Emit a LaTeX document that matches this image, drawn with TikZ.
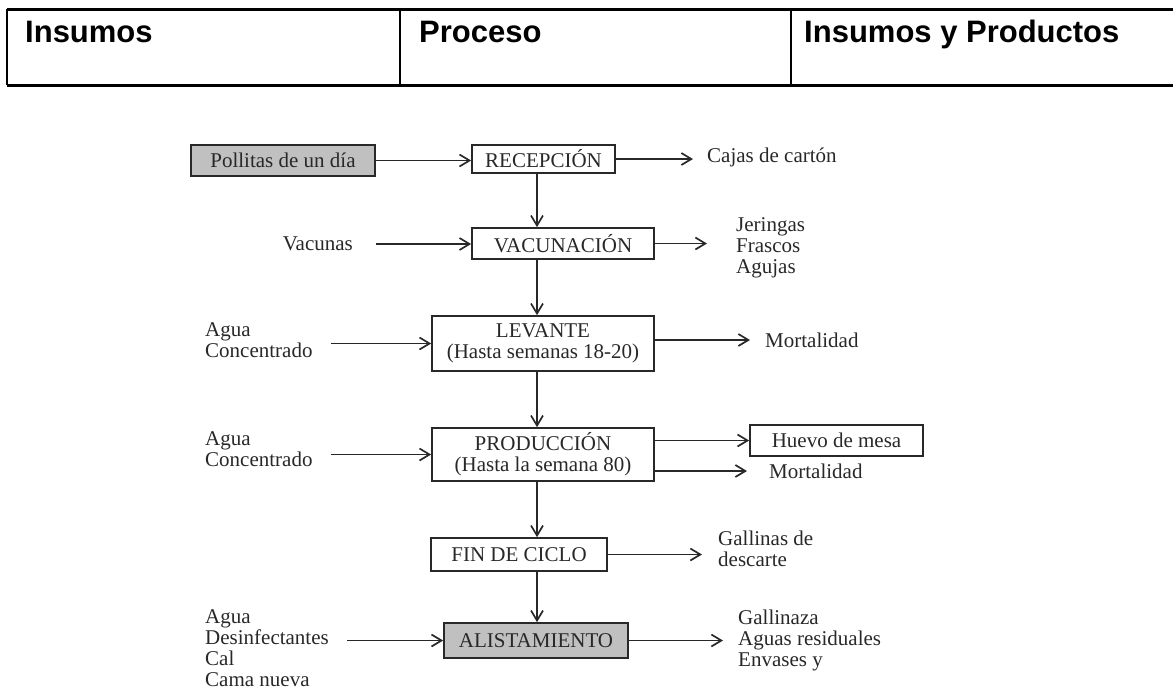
\documentclass[tikz,border=0pt]{standalone}
\usepackage{fontspec}
\setmainfont{Liberation Serif}
\newfontfamily\hdrfont{Liberation Sans}
\usetikzlibrary{arrows.meta,positioning,calc}
\definecolor{boxgray}{RGB}{192,192,192}
\definecolor{inkgray}{RGB}{40,40,40}

\begin{document}
\begin{tikzpicture}[x=1pt,y=-1pt,>={Straight Barb[length=10pt,width=12pt]},
  every node/.style={font=\fontsize{21}{21}\selectfont,text=inkgray},
  proc/.style={draw=inkgray,line width=1.7pt,inner sep=0pt,align=center},
  fillbox/.style={proc,fill=boxgray},
  flow/.style={->,draw=inkgray,line width=1.7pt},
  inp/.style={anchor=west,align=left,inner ysep=0pt,inner xsep=18pt},
  outp/.style={anchor=west,align=left,inner ysep=0pt,inner xsep=15pt},
  hdr/.style={anchor=base west,inner sep=0pt,text=black,font=\hdrfont\bfseries\fontsize{31}{31}\selectfont}]
  \useasboundingbox (0,0) rectangle (1173,689);
  % header table
  \draw[line width=3pt] (7,9)--(1173,9) (7,85)--(1173,85);
  \draw[line width=2.2pt] (7,9)--(7,85) (400,9)--(400,85) (791,9)--(791,85);
  \node[hdr] (hin) at (25,42){Insumos};
  \node[hdr] (hpro) at (419,42){Proceso};
  \node[hdr] (hout) at (804,42){Insumos y Productos};
  % process column
  \coordinate (spine) at (537,0);
  \node[fillbox,minimum width=184pt,minimum height=31pt] (pollitas) at (283,160.5){Pollitas de un día};
  \node[proc,minimum width=143pt,minimum height=28pt] (recep) at (543.5,159){RECEPCIÓN};
  \node[proc,minimum width=182pt,minimum height=31pt] (vacun) at (563,243.5){VACUNACIÓN};
  \node[proc,minimum width=222pt,minimum height=55pt] (levante) at (543,343.5){LEVANTE\\(Hasta semanas 18-20)};
  \node[proc,minimum width=222pt,minimum height=53pt] (produc) at (543,454.5){PRODUCCIÓN\\(Hasta la semana 80)};
  \node[proc,minimum width=176pt,minimum height=33pt] (fin) at (519,554.5){FIN DE CICLO};
  \node[fillbox,minimum width=184pt,minimum height=35pt] (alist) at (536,640.5){ALISTAMIENTO};
  \draw[flow] (recep.south -| spine)--(vacun.north -| spine);
  \draw[flow] (vacun.south -| spine)--(levante.north -| spine);
  \draw[flow] (levante.south -| spine)--(produc.north -| spine);
  \draw[flow] (produc.south -| spine)--(fin.north -| spine);
  \draw[flow] (fin.south -| spine)--(alist.north -| spine);
  % inputs
  \node[inp,anchor=east,inner xsep=23pt] (vac) at (376,244){Vacunas};
  \node[inp] (agua1) at (187,340){Agua\\Concentrado};
  \node[inp] (agua2) at (187,449){Agua\\Concentrado};
  \node[inp] (agua3) at (187,648){Agua\\Desinfectantes\\Cal\\Cama nueva};
  \draw[flow] (pollitas.east)--(pollitas.east -| recep.west);
  \draw[flow] (vac.east)--(vac.east -| vacun.west);
  \draw[flow] (agua1.east |- levante.west)--(levante.west);
  \draw[flow] (agua2.east |- produc.west)--(produc.west);
  \draw[flow] (agua3.east |- alist.west)--(alist.west);
  % outputs
  \node[outp,inner xsep=14pt] (cajas) at (693,157){Cajas de cartón};
  \node[outp,inner xsep=29pt] (jer) at (707,248){Jeringas\\Frascos\\Agujas};
  \node[outp] (mort1) at (750,340){Mortalidad};
  \node[proc,minimum width=173pt,minimum height=31pt] (huevo) at (836.5,440.5){Huevo de mesa};
  \node[outp,inner xsep=22pt] (mort2) at (747,471){Mortalidad};
  \node[outp,inner xsep=16pt] (gall) at (702,548.5){Gallinas de\\descarte};
  \node[outp] (gallinaza) at (723,640){Gallinaza\\Aguas residuales\\Envases y};
  \draw[flow] (recep.east)--(recep.east -| cajas.west);
  \draw[flow] (vacun.east)--(vacun.east -| jer.west);
  \draw[flow] (levante.east |- mort1.west)--(mort1.west);
  \draw[flow] (produc.east |- huevo.west)--(huevo.west);
  \draw[flow] (produc.east |- mort2.west)--(mort2.west);
  \draw[flow] (fin.east)--(fin.east -| gall.west);
  \draw[flow] (alist.east)--(alist.east -| gallinaza.west);
\end{tikzpicture}
\end{document}
